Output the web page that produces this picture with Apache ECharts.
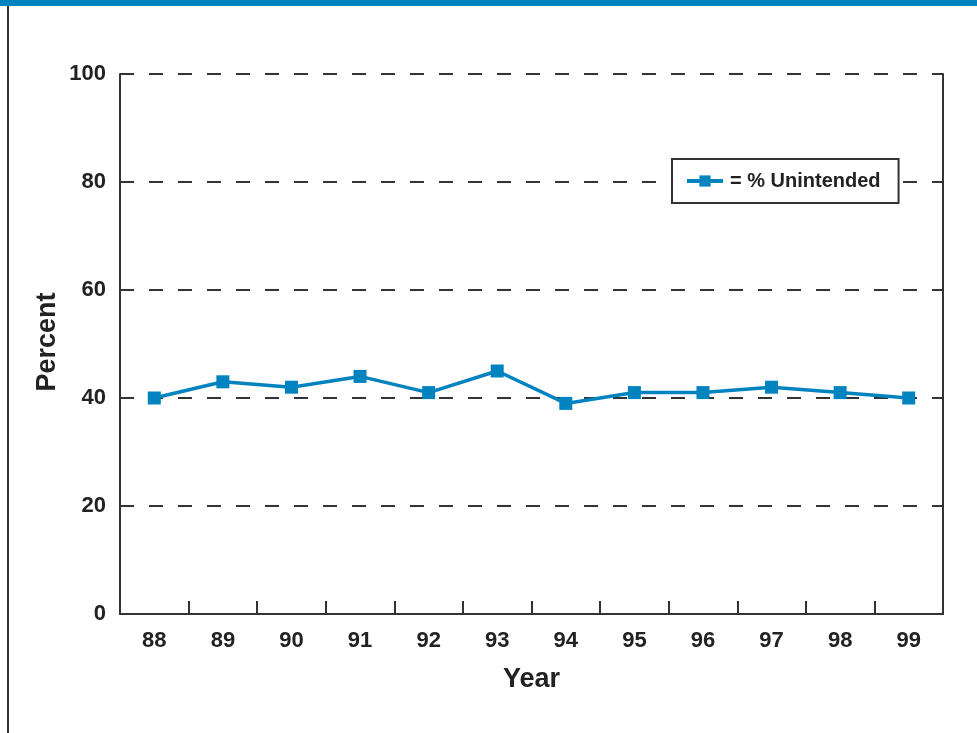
<!DOCTYPE html>
<html>
<head>
<meta charset="utf-8">
<script src="https://cdn.jsdelivr.net/npm/echarts@6/dist/echarts.min.js"></script>
<style>html,body{margin:0;padding:0;background:#fff}#c{width:977px;height:733px}</style>
</head>
<body>
<div id="c"></div>
<script>
var years = ['88','89','90','91','92','93','94','95','96','97','98','99'];
var unintended = [40, 43, 42, 44, 41, 45, 39, 41, 41, 42, 41, 40];
var seriesName = '% Unintended';
var yTitle = 'Percent';
var xTitle = 'Year';
var yTicks = {min: 0, max: 100, interval: 20};

var FONT = 'Liberation Sans';
var chart = echarts.init(document.getElementById('c'));
chart.setOption({
  backgroundColor: '#fff',
  animation: false,
  graphic: [
    {type: 'rect', shape: {x: 0, y: 0, width: 977, height: 6}, style: {fill: '#0083be'}},
    {type: 'line', shape: {x1: 8, y1: 6, x2: 8, y2: 733}, style: {stroke: '#333', lineWidth: 2}},
    {type: 'text', x: 48, y: 342, rotation: Math.PI / 2,
     style: {text: yTitle, fontFamily: FONT, fontWeight: 'bold', fontSize: 27, fill: '#222', align: 'center', verticalAlign: 'middle'}}
  ],
  grid: {left: 120, right: 34, top: 74, bottom: 119},
  legend: {
    left: 672, top: 159,
    backgroundColor: '#fff',
    borderColor: '#333', borderWidth: 2,
    padding: [12, 18, 12, 13],
    itemWidth: 36, itemHeight: 14,
    itemGap: 4,
    lineStyle: {width: 4},
    formatter: function (n) { return '= ' + n; },
    textStyle: {fontFamily: FONT, fontWeight: 'bold', fontSize: 20, color: '#222', padding: [0, 0, 0, 2]},
    data: [seriesName]
  },
  xAxis: {
    type: 'category',
    data: years,
    boundaryGap: true,
    name: xTitle, nameLocation: 'middle', nameGap: 52,
    nameTextStyle: {fontFamily: FONT, fontWeight: 'bold', fontSize: 27, color: '#222'},
    axisLine: {show: true, lineStyle: {color: '#333', width: 2}},
    axisTick: {show: true, inside: true, interval: 0, alignWithLabel: false, length: 13, lineStyle: {color: '#333', width: 2}},
    axisLabel: {fontFamily: FONT, fontWeight: 'bold', fontSize: 22, color: '#222', margin: 16}
  },
  yAxis: [{
    type: 'value',
    min: yTicks.min, max: yTicks.max, interval: yTicks.interval,
    axisLine: {show: true, lineStyle: {color: '#333', width: 2}},
    axisTick: {show: false},
    axisLabel: {fontFamily: FONT, fontWeight: 'bold', fontSize: 22, color: '#222', margin: 14},
    splitLine: {show: true, lineStyle: {color: '#333', width: 2, type: [14, 15]}}
  }, {
    type: 'value',
    min: yTicks.min, max: yTicks.max, interval: yTicks.interval,
    position: 'right',
    axisLine: {show: true, lineStyle: {color: '#333', width: 2}},
    axisTick: {show: false},
    axisLabel: {show: false},
    splitLine: {show: false}
  }],
  series: [{
    name: seriesName,
    type: 'line',
    data: unintended,
    symbol: 'rect', symbolSize: 13,
    lineStyle: {color: '#0083be', width: 3.5},
    itemStyle: {color: '#0083be'}
  }]
});
</script>
</body>
</html>
